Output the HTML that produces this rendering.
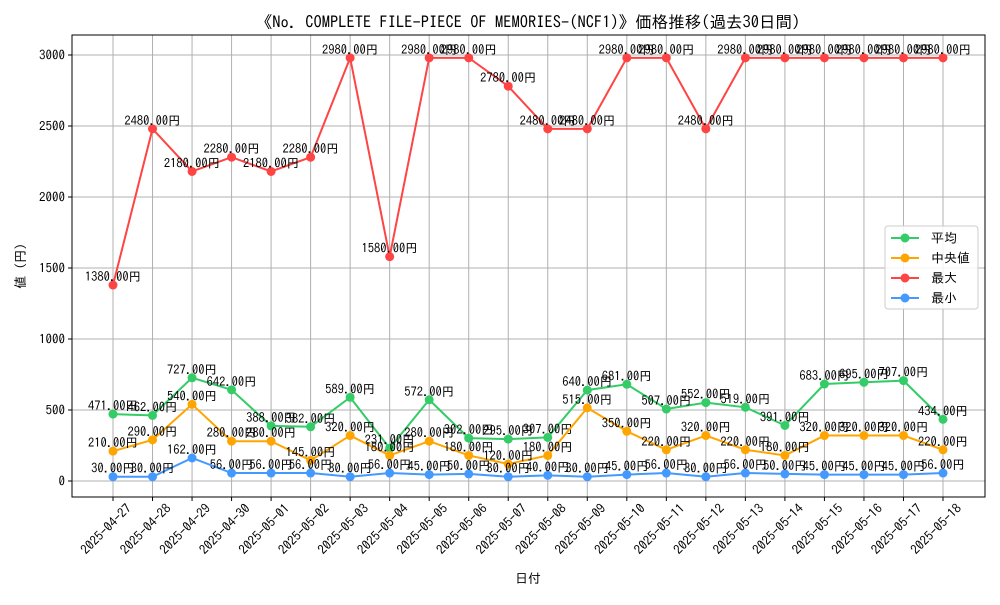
<!DOCTYPE html>
<html><head><meta charset="utf-8"><style>
body{margin:0;background:#fff}
svg text{font-family:"IPAGothic","Liberation Sans","Noto Sans CJK JP",sans-serif}
</style></head><body>
<svg id="c" width="1000" height="600" viewBox="0 0 1000 600"></svg>
<script>
const dates=["2025-04-27","2025-04-28","2025-04-29","2025-04-30","2025-05-01","2025-05-02","2025-05-03","2025-05-04","2025-05-05","2025-05-06","2025-05-07","2025-05-08","2025-05-09","2025-05-10","2025-05-11","2025-05-12","2025-05-13","2025-05-14","2025-05-15","2025-05-16","2025-05-17","2025-05-18"];
const avgVals=[471,462,727,642,388,382,589,231,572,302,295,307,640,681,507,552,519,391,683,695,707,434];
const medVals=[210,290,540,280,280,145,320,180,280,180,120,180,515,350,220,320,220,180,320,320,320,220];
const maxVals=[1380,2480,2180,2280,2180,2280,2980,1580,2980,2980,2780,2480,2480,2980,2980,2480,2980,2980,2980,2980,2980,2980];
const minVals=[30,30,162,56,56,56,30,56,45,50,30,40,30,45,56,30,56,50,45,45,45,56];
const yTicks=[0,500,1000,1500,2000,2500,3000];
const svg=document.getElementById('c');const NS='http://www.w3.org/2000/svg';
const L=72,R=985,T=35,B=497;
const xs=i=>113+i*(943-113)/(dates.length-1);
const ys=v=>481-v*(481-55)/3000;
function el(t,a,p){const e=document.createElementNS(NS,t);for(const k in a)e.setAttribute(k,a[k]);(p||svg).appendChild(e);return e;}
let g=el('g',{});
yTicks.forEach(v=>{el('line',{x1:L,x2:R,y1:ys(v),y2:ys(v),stroke:'#b0b0b0','stroke-width':1},g);
 const t=el('text',{x:L-7,y:ys(v)+4.5,'text-anchor':'end','font-size':13});t.textContent=v;
 
 el('line',{x1:L-4,x2:L,y1:ys(v),y2:ys(v),stroke:'#000'});});
dates.forEach((d,i)=>{el('line',{x1:xs(i),x2:xs(i),y1:T,y2:B,stroke:'#b0b0b0','stroke-width':1},g);
 el('line',{x1:xs(i),x2:xs(i),y1:B,y2:B+4,stroke:'#000'});
 const t=el('text',{transform:`translate(${xs(i)+13},${B+6}) rotate(-45)`,'text-anchor':'end','font-size':13,'dominant-baseline':'hanging'});t.textContent=d;
 });
const frame=el('rect',{x:L,y:T,width:R-L,height:B-T,fill:'none',stroke:'#000'});

const series=[["avg",avgVals,"#33cc66"],["median",medVals,"#ffa500"],["max",maxVals,"#ff4444"],["min",minVals,"#4499ff"]];
series.forEach(([n,vals,c])=>{const sg=el('g',{});
 el('polyline',{points:vals.map((v,i)=>xs(i)+','+ys(v)).join(' '),fill:'none',stroke:c,'stroke-width':2},sg);
 vals.forEach((v,i)=>{const p=el('circle',{cx:xs(i),cy:ys(v),r:4.5,fill:c},sg);
  const t=el('text',{x:xs(i),y:ys(v)-4,'text-anchor':'middle','font-size':12.5},sg);t.textContent=v.toFixed(2)+'円';
  });});
let t=el('text',{x:528,y:28,'text-anchor':'middle','font-size':16.5});t.textContent='《No. COMPLETE FILE-PIECE OF MEMORIES-(NCF1)》価格推移(過去30日間)';
t=el('text',{x:528,y:583,'text-anchor':'middle','font-size':13});t.textContent='日付';
t=el('text',{transform:'translate(25,266) rotate(-90)','text-anchor':'middle','font-size':13});t.textContent='値 (円)';
const lg=el('g',{});
el('rect',{x:885,y:226,width:93,height:83,fill:'#fff','fill-opacity':0.85,stroke:'#ccc',rx:3},lg);
const names=["平均","中央値","最大","最小"];
series.forEach(([n,v,c],i)=>{const y=238+i*20;const e=el('g',{},lg);
 el('line',{x1:891,x2:919,y1:y,y2:y,stroke:c,'stroke-width':2},e);el('circle',{cx:905,cy:y,r:4.5,fill:c},e);
 const tt=el('text',{x:931,y:y+4.5,'font-size':13},e);tt.textContent=names[i];});
</script>
</body></html>
